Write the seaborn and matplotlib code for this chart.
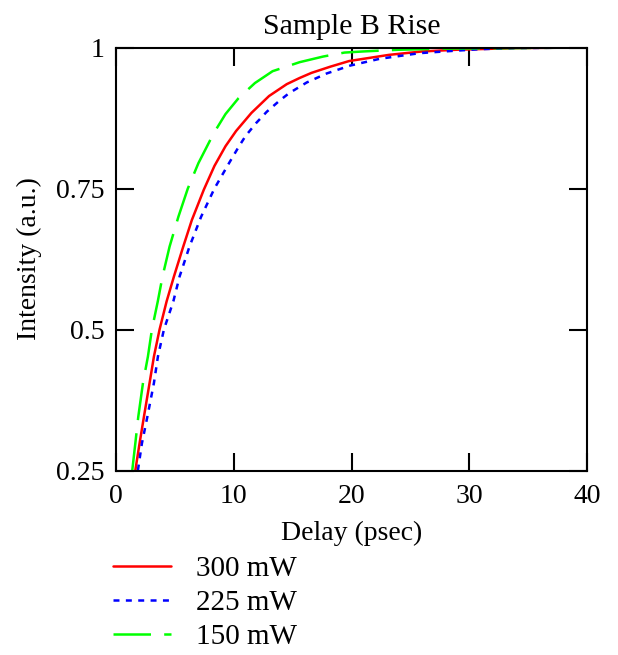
import matplotlib
matplotlib.use("Agg")
import matplotlib.pyplot as plt
import seaborn as sns
import pandas as pd

# Normalised rise curves per excitation power (delay in ps, intensity in a.u.)
red_delay = [1.64, 2.0, 2.37, 2.85, 3.22, 3.7, 4.3, 4.92, 5.68, 6.44, 7.46, 8.36,
             9.3, 10.2, 11.5, 13.0, 14.5, 15.6, 16.6, 18.2, 19.8, 23.2, 26.0, 28.9, 34.0, 40.0]
red_int = [0.25, 0.298, 0.345, 0.405, 0.452, 0.5, 0.55, 0.594, 0.645, 0.694, 0.748, 0.790,
           0.825, 0.852, 0.884, 0.914, 0.935, 0.946, 0.955, 0.966, 0.976, 0.987, 0.993, 0.996, 0.999, 1.0]

blue_delay = [1.86, 2.2, 2.66, 3.22, 3.56, 4.07, 4.87, 5.4, 6.24, 7.23, 8.36, 9.6,
              10.45, 11.0, 11.9, 12.8, 13.9, 14.7, 16.2, 17.9, 19.9, 22.4, 25.8, 28.6, 30.9, 34.0, 40.0]
blue_int = [0.25, 0.298, 0.345, 0.405, 0.452, 0.5, 0.55, 0.594, 0.647, 0.70, 0.75, 0.795,
            0.825, 0.843, 0.866, 0.886, 0.906, 0.919, 0.938, 0.954, 0.968, 0.980, 0.990, 0.994, 0.997, 0.999, 1.0]

green_delay = [1.38, 1.64, 1.89, 2.29, 2.71, 3.05, 3.55, 3.95, 4.55, 5.3, 6.1, 7.0,
               8.3, 9.3, 10.4, 11.8, 13.3, 15.6, 17.6, 19.4, 21.0, 24.0, 28.0, 40.0]
green_int = [0.25, 0.298, 0.345, 0.405, 0.452, 0.5, 0.55, 0.594, 0.647, 0.70, 0.75, 0.795,
             0.848, 0.882, 0.910, 0.937, 0.958, 0.974, 0.984, 0.991, 0.993, 0.996, 0.998, 1.0]

labels = ["300 mW", "225 mW", "150 mW"]
colors = ["#ff0000", "#0000ff", "#00ff00"]

x_ticks = [0, 10, 20, 30, 40]
y_ticks = [0.25, 0.5, 0.75, 1.0]
y_tick_labels = ["0.25", "0.5", "0.75", "1"]

sns.set_style("white")
plt.rcParams["font.family"] = ["Liberation Serif", "DejaVu Serif"]
plt.rcParams["text.color"] = "black"
plt.rcParams["axes.labelcolor"] = "black"
plt.rcParams["lines.scale_dashes"] = False

fig = plt.figure(figsize=(6.18, 6.55), dpi=100)
ax = fig.add_axes([116 / 618, 1 - 470.5 / 655, (587 - 116) / 618, (470.5 - 47.5) / 655])

series = [
    (red_delay, red_int, "-"),
    (blue_delay, blue_int, (0, (4.3, 4.6))),
    (green_delay, green_int, (0, (27, 9.5))),
]
for (xd, yd, ls), lab, col in zip(series, labels, colors):
    df = pd.DataFrame({"delay": xd, "intensity": yd})
    sns.lineplot(data=df, x="delay", y="intensity", ax=ax, color=col,
                 linewidth=1.8, linestyle=ls, sort=False, estimator=None,
                 label=lab, legend=False)

ax.set_xlim(0, 40)
ax.set_ylim(0.25, 1.0)
ax.set_xticks(x_ticks)
ax.set_xticklabels([str(t) for t in x_ticks])
ax.set_yticks(y_ticks)
ax.set_yticklabels(y_tick_labels)

for sp in ax.spines.values():
    sp.set_linewidth(1.5)
    sp.set_color("black")
ax.tick_params(axis="both", which="major", direction="in", length=13, width=1.5,
               top=True, right=True, bottom=True, left=True,
               labelsize=20, colors="black")
ax.tick_params(axis="y", pad=8)
ax.tick_params(axis="x", pad=10)

ax.set_title("Sample B Rise", fontsize=21.5, pad=9.5, color="black")
ax.set_xlabel("Delay (psec)", fontsize=20, labelpad=8)
ax.set_ylabel("Intensity (a.u.)", fontsize=20, labelpad=10)

handles = ax.get_lines()
ax.legend(handles, labels, loc="upper left", bbox_to_anchor=(113 / 618, 1 - 556 / 655),
          bbox_transform=fig.transFigure, frameon=False, fontsize=21,
          handlelength=2.0, handletextpad=0.85, labelspacing=0.25, borderpad=0,
          borderaxespad=0)

fig.savefig("out.png", dpi=100)
